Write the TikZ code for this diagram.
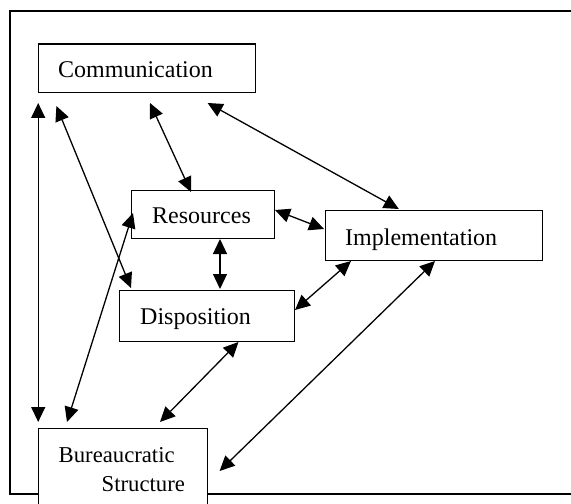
\documentclass[tikz,border=0pt]{standalone}
\usepackage{fontspec}
\setmainfont{Liberation Serif}
\usetikzlibrary{arrows.meta}
\begin{document}
\begin{tikzpicture}[x=1bp,y=-1bp,
  box/.style={draw,line width=1.4bp,fill=white,anchor=north west,inner sep=0pt},
  lbl/.style={anchor=base west,inner sep=0pt,font=\fontsize{24bp}{28bp}\selectfont},
  lbls/.style={anchor=base west,inner sep=0pt,font=\fontsize{22.7bp}{27bp}\selectfont},
  dbl/.style={line width=1.3bp,{Triangle[length=15bp,width=14bp]}-{Triangle[length=15bp,width=14bp]}}]
\useasboundingbox (0,0) rectangle (571,504);
% frame
\draw[line width=1.3bp] (580,11) -- (10,11) -- (10,494) -- (580,494);
% boxes
\node[box,minimum width=217.5bp,minimum height=48.7bp] (comm) at (37.5,43.3) {};
\node[box,minimum width=142.5bp,minimum height=48bp] (res) at (131,190) {};
\node[box,minimum width=217.5bp,minimum height=50bp] (impl) at (324.5,210) {};
\node[box,minimum width=175bp,minimum height=50.7bp] (disp) at (119,290) {};
\node[box,minimum width=169bp,minimum height=90bp] (bur) at (38,428) {};
% labels
\node[lbl] (tcomm) at (58,78) {Communication};
\node[lbl] (tres) at (152,224) {Resources};
\node[lbl] (timpl) at (345,245) {Implementation};
\node[lbl] (tdisp) at (140,324) {Disposition};
\node[lbls] (tbur1) at (58.5,462) {Bureaucratic};
\node[lbls] (tbur2) at (101.5,491) {Structure};
% connector end points
\coordinate (c1) at (38.2,103);
\coordinate (b1) at (38.2,422);
\coordinate (c2) at (56.4,106);
\coordinate (d1) at (131,288);
\coordinate (c3) at (150,103);
\coordinate (r1) at (191,192);
\coordinate (c4) at (207.6,103);
\coordinate (i1) at (398.8,209);
\coordinate (r2) at (275,210);
\coordinate (i2) at (324,229);
\coordinate (r3) at (220,239);
\coordinate (d2) at (220,289);
\coordinate (d3) at (295,310);
\coordinate (i3) at (351,261);
\coordinate (b2) at (67,422);
\coordinate (r4) at (133,213);
\coordinate (d4) at (238.5,342);
\coordinate (b3) at (160,422);
\coordinate (i4) at (435,261);
\coordinate (b4) at (219.6,471);
% connectors
\draw[dbl] (c1) -- (b1);
\draw[dbl] (c2) -- (d1);
\draw[dbl] (c3) -- (r1);
\draw[dbl] (c4) -- (i1);
\draw[dbl] (r2) -- (i2);
\draw[dbl] (r3) -- (d2);
\draw[dbl] (d3) -- (i3);
\draw[dbl] (b2) -- (r4);
\draw[dbl] (d4) -- (b3);
\draw[dbl] (i4) -- (b4);
\end{tikzpicture}
\end{document}
